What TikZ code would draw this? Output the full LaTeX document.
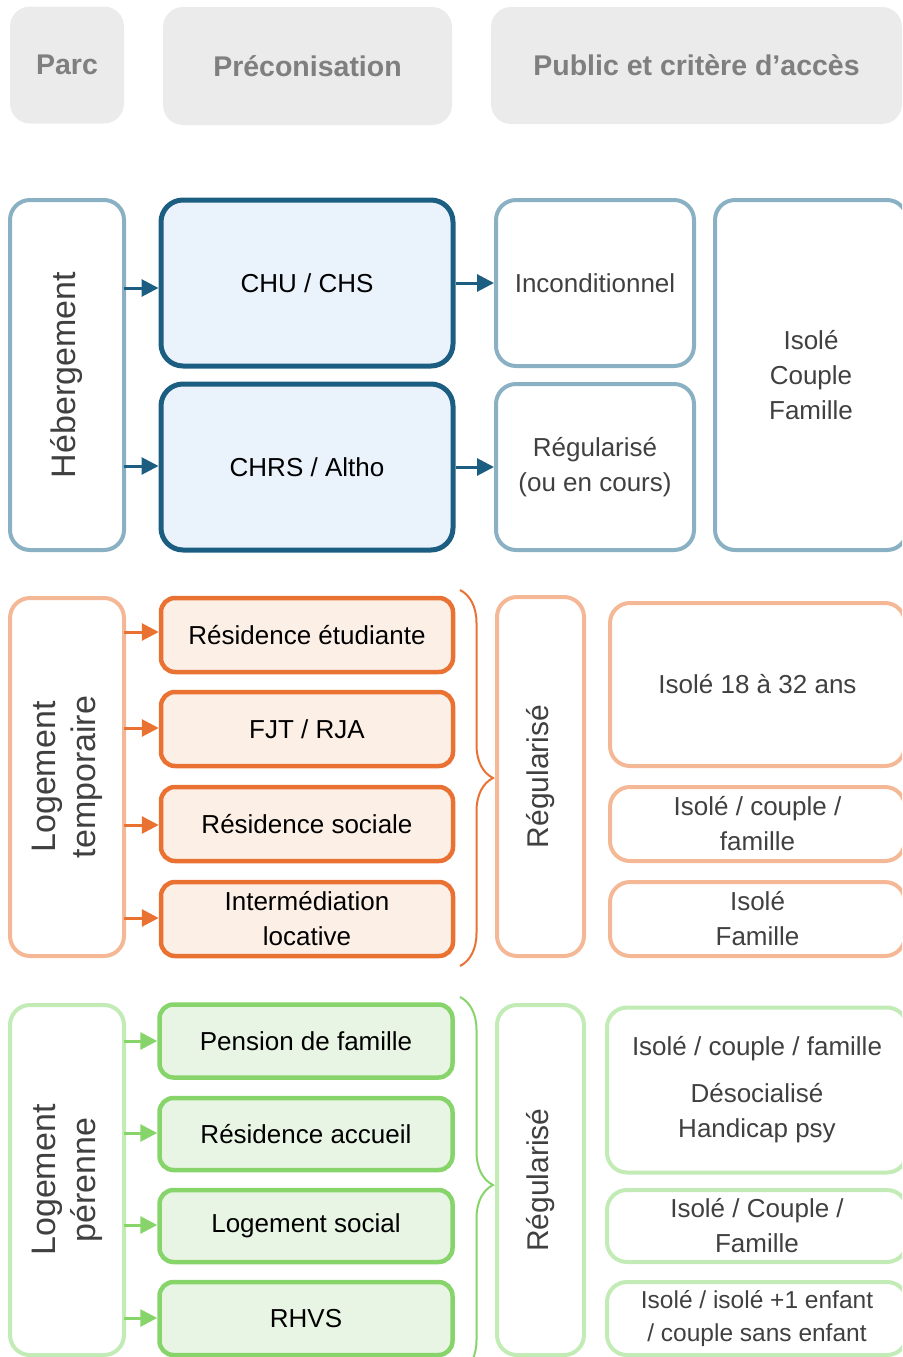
\documentclass[tikz,border=0pt]{standalone}
\usepackage{fontspec}
\setmainfont{Liberation Sans}
\usepackage{tikz}
\usetikzlibrary{shapes,arrows.meta,backgrounds,%
positioning,fit,calc,decorations.pathreplacing%
}

\definecolor{headgray}{HTML}{EBEBEB}
\definecolor{headtext}{HTML}{7F7F7F}
\definecolor{bodytext}{HTML}{404040}
\definecolor{hebdark}{HTML}{1B5E82}
\definecolor{heblight}{HTML}{8AB0C4}
\definecolor{hebfill}{HTML}{EAF2FB}
\definecolor{tmpdark}{HTML}{E97132}
\definecolor{tmplight}{HTML}{F5B896}
\definecolor{tmpfill}{HTML}{FCEFE6}
\definecolor{perdark}{HTML}{86D46A}
\definecolor{perlight}{HTML}{C2EBB5}
\definecolor{perfill}{HTML}{E9F5E4}

\tikzset{
  txt/.style={font=\fontsize{26}{35}\selectfont, align=center, inner sep=0pt},
  head/.style={fill=headgray, rounded corners=20pt, text=headtext,
    font=\fontsize{28.5}{32}\selectfont\bfseries, align=center},
  parcbox/.style={draw=#1, line width=4pt, rounded corners=20pt, text=bodytext,
    font=\fontsize{34}{40}\selectfont, align=center, rotate=90},
  precobox/.style={txt, rounded corners=#1, line width=4.5pt},
  critbox/.style={txt, draw=#1, line width=4pt, rounded corners=20pt, text=bodytext},
  regbox/.style={draw=#1, line width=4pt, rounded corners=20pt, text=bodytext,
    font=\fontsize{30}{36}\selectfont, rotate=90},
  link/.style={draw=#1, line width=3pt, -{Triangle[length=17pt,width=17pt]}},
  accolade/.style={draw=#1, line width=2pt, decorate,
    decoration={brace, amplitude=33pt, aspect=0.5}},
}

\begin{document}
\begin{tikzpicture}[x=1pt,y=-1pt]
  \useasboundingbox (0,0) rectangle (902,1357);
  \clip (0,0) rectangle (902,1357);

  % en-tetes
  \node[head, minimum width=114pt, minimum height=117pt] (hParc) at (67,65) {Parc};
  \node[head, minimum width=289pt, minimum height=118pt] (hPreco) at (307.5,66) {Préconisation};
  \node[head, minimum width=411pt, minimum height=117pt] (hPublic) at (696.5,65.5) {Public et critère d’accès};

  % hebergement
  \node[parcbox=heblight, minimum width=350pt, minimum height=114pt] (pHeb) at (67,375) {Hébergement};
  \node[precobox=22pt, draw=hebdark, fill=hebfill, line width=5pt,
        minimum width=292pt, minimum height=166pt] (chu) at (307,283) {CHU / CHS};
  \node[precobox=22pt, draw=hebdark, fill=hebfill, line width=5pt,
        minimum width=292pt, minimum height=166pt] (chrs) at (307,467) {CHRS / Altho};
  \node[critbox=heblight, minimum width=198pt, minimum height=166pt] (inco) at (595,283) {Inconditionnel};
  \node[critbox=heblight, minimum width=198pt, minimum height=166pt] (reguH) at (595,467) {Régularisé\\(ou en cours)};
  \node[critbox=heblight, minimum width=192pt, minimum height=350pt] (icfH) at (811,375) {Isolé\\Couple\\Famille};

  \coordinate (aHeb1) at (124,288);
  \coordinate (aHeb2) at (124,466);
  \draw[link=hebdark] (aHeb1) -- (aHeb1 -| chu.west);
  \draw[link=hebdark] (aHeb2) -- (aHeb2 -| chrs.west);
  \draw[link=hebdark] (chu.east) -- (inco.west);
  \draw[link=hebdark] (chrs.east) -- (reguH.west);

  % logement temporaire
  \node[parcbox=tmplight, minimum width=358pt, minimum height=114pt] (pTmp) at (67,777) {Logement\\temporaire};
  \node[precobox=14pt, draw=tmpdark, fill=tmpfill, minimum width=292pt, minimum height=74pt] (resEtu) at (307,635) {Résidence étudiante};
  \node[precobox=14pt, draw=tmpdark, fill=tmpfill, minimum width=292pt, minimum height=74pt] (fjt) at (307,729) {FJT / RJA};
  \node[precobox=14pt, draw=tmpdark, fill=tmpfill, minimum width=292pt, minimum height=74pt] (resSoc) at (307,824) {Résidence sociale};
  \node[precobox=14pt, draw=tmpdark, fill=tmpfill, minimum width=292pt, minimum height=74pt] (interm) at (307,919) {Intermédiation\\locative};
  \node[regbox=tmplight, minimum width=359pt, minimum height=87pt] (regT) at (540.5,776.5) {Régularisé};
  \node[critbox=tmplight, minimum width=295pt, minimum height=163pt] (r18) at (757.5,684.5) {Isolé 18 à 32 ans};
  \node[critbox=tmplight, minimum width=295pt, minimum height=74pt] (rIcf) at (757.5,824) {Isolé / couple /\\famille};
  \node[critbox=tmplight, minimum width=295pt, minimum height=74pt] (rIf) at (757.5,919) {Isolé\\Famille};

  \foreach \cible/\yy in {resEtu/632, fjt/728, resSoc/825, interm/918}{
    \coordinate (aT) at (124,\yy);
    \draw[link=tmpdark] (aT) -- (aT -| \cible.west);
  }
  \coordinate (bT1) at (460,590);
  \coordinate (bT2) at (460,966);
  \draw[accolade=tmpdark] (bT1) -- (bT2);

  % logement perenne
  \node[parcbox=perlight, minimum width=350pt, minimum height=114pt] (pPer) at (67,1180) {Logement\\pérenne};
  \node[precobox=14pt, draw=perdark, fill=perfill, minimum width=293pt, minimum height=73pt] (pension) at (306,1041) {Pension de famille};
  \node[precobox=14pt, draw=perdark, fill=perfill, minimum width=293pt, minimum height=72pt] (accueil) at (306,1134) {Résidence accueil};
  \node[precobox=14pt, draw=perdark, fill=perfill, minimum width=293pt, minimum height=72pt] (social) at (306,1226) {Logement social};
  \node[precobox=14pt, draw=perdark, fill=perfill, minimum width=293pt, minimum height=73pt] (rhvs) at (306,1318.5) {RHVS};
  \node[regbox=perlight, minimum width=350pt, minimum height=87pt] (regP) at (540.5,1180) {Régularisé};
  \node[critbox=perlight, minimum width=300pt, minimum height=165pt] (rDes) at (757,1090)
    {Isolé / couple / famille\\[12pt]Désocialisé\\Handicap psy};
  \node[critbox=perlight, minimum width=300pt, minimum height=72pt] (rIcf2) at (757,1226) {Isolé / Couple /\\Famille};
  \node[critbox=perlight, minimum width=300pt, minimum height=73pt, font=\fontsize{24.5}{33}\selectfont] (rEnf) at (757,1318.5)
    {Isolé / isolé +1 enfant\\/ couple sans enfant};

  \foreach \cible/\yy in {pension/1041, accueil/1133, social/1225, rhvs/1318}{
    \coordinate (aP) at (124,\yy);
    \draw[link=perdark] (aP) -- (aP -| \cible.west);
  }
  \coordinate (bP1) at (460,997);
  \coordinate (bP2) at (460,1373);
  \draw[accolade=perdark] (bP1) -- (bP2);
\end{tikzpicture}
\end{document}
